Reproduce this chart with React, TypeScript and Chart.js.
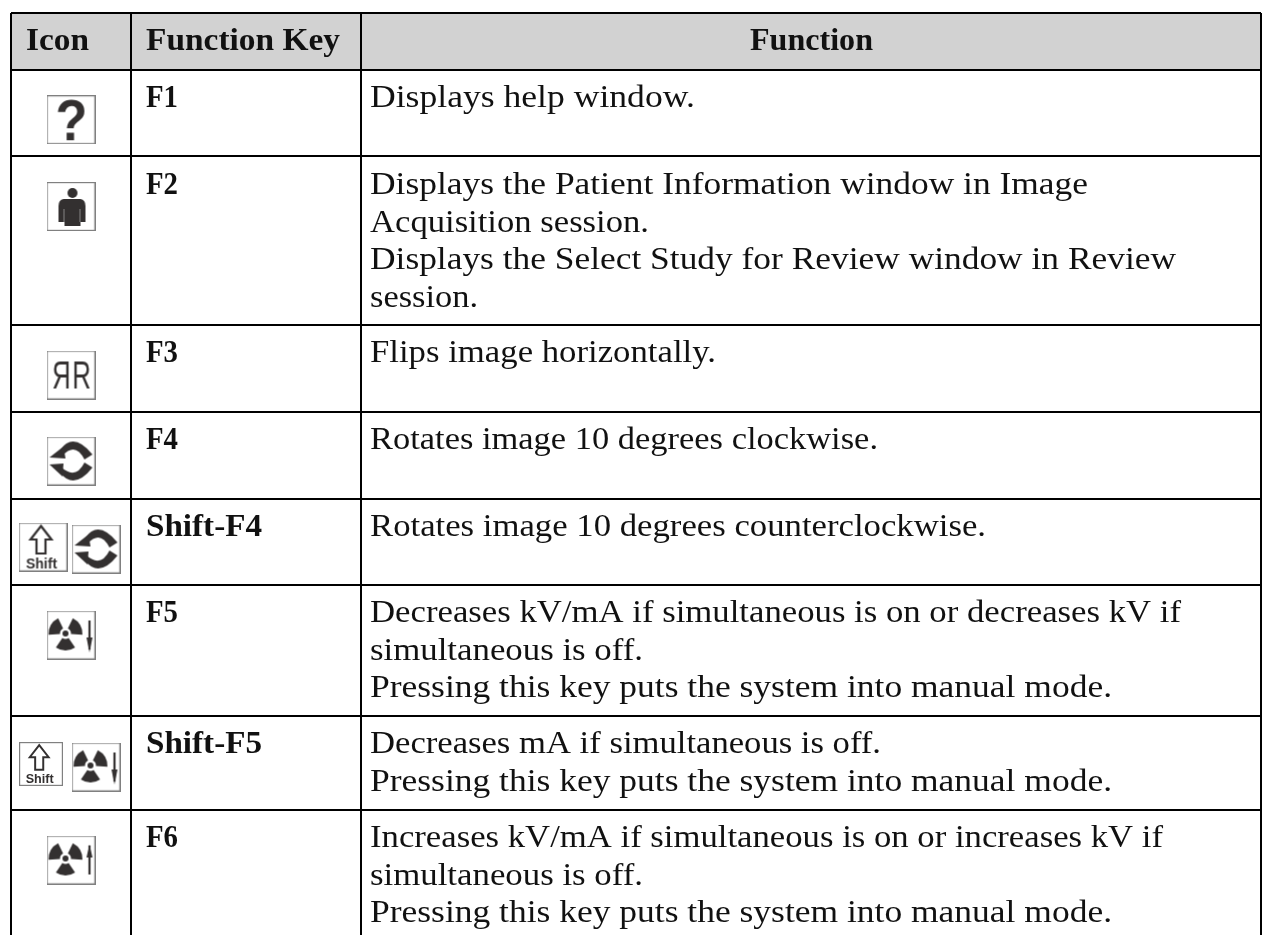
import React, { useEffect, useRef } from "react";
import { Chart, registerables } from "chart.js";

Chart.register(...registerables);

const headers = ["Icon", "Function Key", "Function"];
const headerStarts = [26, 146, 750];
const headerEnds = [89, 340, 873];
const functionKeys = ["F1", "F2", "F3", "F4", "Shift-F4", "F5", "Shift-F5", "F6"];
const keyEnds = [178, 178, 178, 178, 262, 178, 262, 178];
const functionLines = [
  ["Displays help window."],
  [
    "Displays the Patient Information window in Image",
    "Acquisition session.",
    "Displays the Select Study for Review window in Review",
    "session.",
  ],
  ["Flips image horizontally."],
  ["Rotates image 10 degrees clockwise."],
  ["Rotates image 10 degrees counterclockwise."],
  [
    "Decreases kV/mA if simultaneous is on or decreases kV if",
    "simultaneous is off.",
    "Pressing this key puts the system into manual mode.",
  ],
  ["Decreases mA if simultaneous is off.", "Pressing this key puts the system into manual mode."],
  [
    "Increases kV/mA if simultaneous is on or increases kV if",
    "simultaneous is off.",
    "Pressing this key puts the system into manual mode.",
  ],
];
const lineEnds = [
  [695],
  [1088, 649, 1176, 478],
  [716],
  [878],
  [986],
  [1181, 643, 1112],
  [881, 1112],
  [1163, 643, 1112],
];
const columnEdges = [11, 131, 361, 1261];
const rowEdges = [13, 69.5, 155.5, 325, 411.5, 498.5, 585, 716, 810, 935];
const firstBaselines = [107, 194, 362, 449, 536, 622, 753, 847];
const iconKinds = ["help", "person", "flip", "rotate", "shift", "rotate", "down", "shift", "down", "up"];
const iconX = [71, 71, 71, 71, 43, 96, 71, 41, 96, 71];
const iconY = [119.7, 206.5, 375, 461, 547, 549, 635, 764, 767, 860];
const iconSizes = [49, 49, 49, 49, 49, 49, 49, 44, 49, 49];

const INK = "#333030";
const BODY_FONT = '32px "Liberation Serif"';
const BOLD_FONT = 'bold 32px "Liberation Serif"';
const BODY_START = 370;
const KEY_START = 146;
const HEADER_BASELINE = 50;
const LINE_HEIGHT = 37.5;

function makeIcon(kind: string, size: number): HTMLCanvasElement {
  const cv = document.createElement("canvas");
  cv.width = size;
  cv.height = size;
  const c = cv.getContext("2d")!;
  c.fillStyle = "#fff";
  c.fillRect(0, 0, size, size);
  c.strokeStyle = "#808080";
  c.lineWidth = 1.2;
  c.strokeRect(0.6, 0.6, size - 1.2, size - 1.2);
  c.save();
  c.filter = "blur(0.5px)";
  c.scale(size / 49, size / 49);
  c.fillStyle = INK;
  c.strokeStyle = INK;
  if (kind === "help") {
    c.font = 'bold 58px "Liberation Sans"';
    c.textAlign = "center";
    c.save();
    c.translate(25, 45);
    c.scale(0.9, 1);
    c.fillText("?", 0, 0);
    c.restore();
  } else if (kind === "person") {
    c.beginPath();
    c.arc(26, 11, 5, 0, Math.PI * 2);
    c.fill();
    c.beginPath();
    c.moveTo(17, 17);
    c.lineTo(34, 17);
    c.quadraticCurveTo(39, 18, 39, 24);
    c.lineTo(39, 40);
    c.lineTo(34, 40);
    c.lineTo(34, 44);
    c.lineTo(18, 44);
    c.lineTo(18, 40);
    c.lineTo(12, 40);
    c.lineTo(12, 24);
    c.quadraticCurveTo(12, 18, 17, 17);
    c.fill();
    c.strokeStyle = "#9a9a9a";
    c.lineWidth = 0.8;
    c.beginPath();
    c.moveTo(17.5, 27);
    c.lineTo(17.5, 40);
    c.moveTo(33.5, 27);
    c.lineTo(33.5, 40);
    c.stroke();
  } else if (kind === "flip") {
    c.font = '38px "Liberation Sans"';
    c.textAlign = "center";
    c.save();
    c.translate(35, 38);
    c.scale(0.68, 1);
    c.fillText("R", 0, 0);
    c.restore();
    c.save();
    c.translate(15, 38);
    c.scale(-0.68, 1);
    c.fillText("R", 0, 0);
    c.restore();
  } else if (kind === "rotate") {
    c.beginPath();
    c.moveTo(3, 21);
    c.lineTo(17, 10);
    c.lineTo(19, 22);
    c.closePath();
    c.fill();
    c.beginPath();
    c.moveTo(14, 13);
    c.quadraticCurveTo(27, -5, 46, 18);
    c.lineTo(38, 23);
    c.quadraticCurveTo(29, 5, 16, 19);
    c.closePath();
    c.fill();
    c.beginPath();
    c.moveTo(3, 28);
    c.lineTo(17, 27);
    c.lineTo(16, 40);
    c.closePath();
    c.fill();
    c.beginPath();
    c.moveTo(13, 36);
    c.quadraticCurveTo(28, 54, 46, 31);
    c.lineTo(38, 26);
    c.quadraticCurveTo(29, 44, 14, 30);
    c.closePath();
    c.fill();
  } else if (kind === "shift") {
    c.lineWidth = 2.2;
    c.beginPath();
    c.moveTo(22.5, 3.5);
    c.lineTo(33, 17);
    c.lineTo(27, 17);
    c.lineTo(27, 31);
    c.lineTo(18, 31);
    c.lineTo(18, 17);
    c.lineTo(12, 17);
    c.closePath();
    c.stroke();
    c.font = 'bold 14px "Liberation Sans"';
    c.textAlign = "center";
    c.fillText("Shift", 23, 46);
  } else {
    const cx = 19;
    const cy = 23;
    for (const mid of [-150, -30, 90]) {
      const a = (mid * Math.PI) / 180;
      c.beginPath();
      c.arc(cx, cy, 17, a - 0.6, a + 0.6);
      c.arc(cx, cy, 5.5, a + 0.6, a - 0.6, true);
      c.closePath();
      c.fill();
    }
    c.beginPath();
    c.arc(cx, cy, 3, 0, Math.PI * 2);
    c.fill();
    c.lineWidth = 2.2;
    c.beginPath();
    c.moveTo(43, 10);
    c.lineTo(43, 39);
    c.stroke();
    c.beginPath();
    if (kind === "down") {
      c.moveTo(40, 27);
      c.lineTo(46, 27);
      c.lineTo(43, 42);
    } else {
      c.moveTo(40, 22);
      c.lineTo(46, 22);
      c.lineTo(43, 9);
    }
    c.closePath();
    c.fill();
  }
  c.restore();
  return cv;
}

const tableTextPlugin = {
  id: "tableText",
  afterDatasetsDraw(chart: any) {
    const { ctx, scales } = chart;
    const put = (t: string, start: number, end: number, yv: number, font: string) => {
      ctx.save();
      ctx.font = font;
      ctx.fillStyle = "#111";
      ctx.textBaseline = "alphabetic";
      ctx.textAlign = "left";
      const x0 = scales.x.getPixelForValue(start);
      const x1 = scales.x.getPixelForValue(end);
      ctx.translate(x0, scales.y.getPixelForValue(yv));
      ctx.scale((x1 - x0) / ctx.measureText(t).width, 1);
      ctx.fillText(t, 0, 0);
      ctx.restore();
    };
    headers.forEach((h, i) => put(h, headerStarts[i], headerEnds[i], HEADER_BASELINE, BOLD_FONT));
    functionKeys.forEach((k, i) => {
      put(k, KEY_START, keyEnds[i], firstBaselines[i], BOLD_FONT);
      functionLines[i].forEach((line, j) => {
        put(line, BODY_START, lineEnds[i][j], firstBaselines[i] + j * LINE_HEIGHT, BODY_FONT);
      });
    });
  },
};

export default function App() {
  const ref = useRef<HTMLCanvasElement>(null);
  useEffect(() => {
    const chart = new Chart(ref.current!, {
      type: "scatter",
      plugins: [tableTextPlugin],
      data: {
        datasets: [
          {
            label: "Header",
            data: [
              { x: columnEdges[0], y: rowEdges[1] },
              { x: columnEdges[3], y: rowEdges[1] },
            ],
            showLine: true,
            pointRadius: 0,
            borderWidth: 0,
            fill: { value: rowEdges[0] },
            backgroundColor: "#D2D2D2",
          },
          {
            label: "Icons",
            data: iconX.map((x, i) => ({ x, y: iconY[i] })),
            pointStyle: iconKinds.map((k, i) => makeIcon(k, iconSizes[i])),
          },
        ],
      } as any,
      options: {
        animation: false,
        responsive: false,
        events: [],
        layout: { autoPadding: false, padding: { left: 11, top: 13, right: 1, bottom: 0 } },
        plugins: { legend: { display: false }, tooltip: { enabled: false } },
        scales: {
          x: {
            type: "linear",
            min: columnEdges[0],
            max: columnEdges[3],
            afterBuildTicks: (s: any) => {
              s.ticks = columnEdges.map((value) => ({ value }));
            },
            ticks: { display: false },
            border: { display: false },
            grid: { color: "#000", lineWidth: 2, drawTicks: false, z: 1 },
          },
          y: {
            type: "linear",
            reverse: true,
            min: rowEdges[0],
            max: rowEdges[rowEdges.length - 1],
            afterBuildTicks: (s: any) => {
              s.ticks = rowEdges.slice(0, -1).map((value) => ({ value }));
            },
            ticks: { display: false },
            border: { display: false },
            grid: { color: "#000", lineWidth: 2, drawTicks: false, z: 1 },
          },
        },
      } as any,
    });
    return () => chart.destroy();
  }, []);
  return (
    <div style={{ position: "fixed", left: 0, top: 0, width: 1262, height: 935 }}>
      <canvas ref={ref} width={1262} height={935} style={{ display: "block" }} />
    </div>
  );
}
